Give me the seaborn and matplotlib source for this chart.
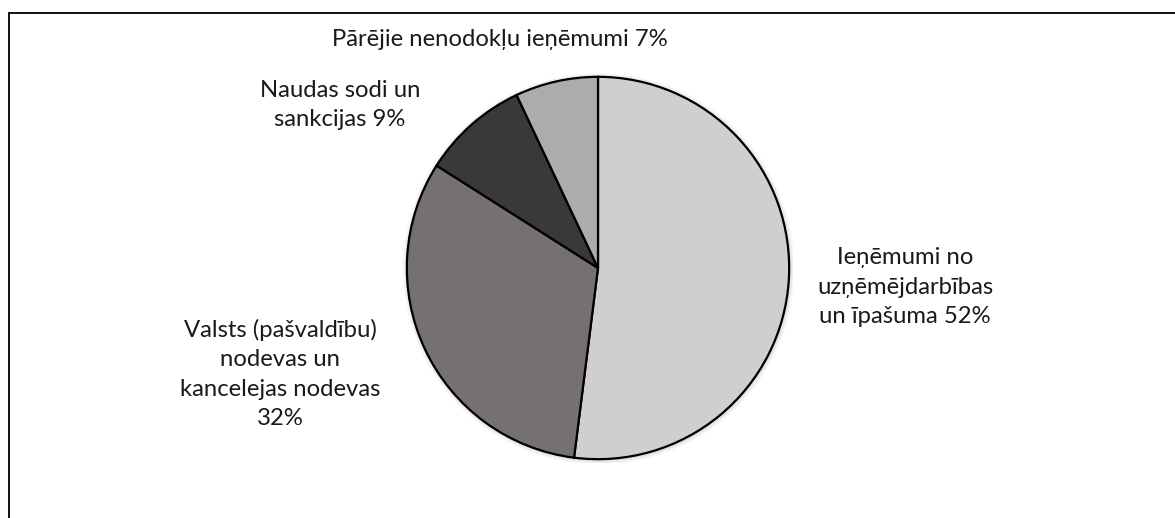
import matplotlib
matplotlib.use("Agg")
import matplotlib.pyplot as plt
import seaborn as sns
from matplotlib.patches import Circle

# data (clockwise from 12 o'clock)
categories = [
    "Ieņēmumi no\nuzņēmējdarbības\nun īpašuma",
    "Valsts (pašvaldību)\nnodevas un\nkancelejas nodevas\n",
    "Naudas sodi un\nsankcijas",
    "Pārējie nenodokļu ieņēmumi",
]
shares = [52, 32, 9, 7]
colors = ["#d0cece", "#767171", "#3b3838", "#aeabab"]

sns.set_theme(style="white")
plt.rcParams["font.family"] = ["Lato", "DejaVu Sans"]

W, H = 1175, 518
fig = plt.figure(figsize=(W / 100, H / 100), dpi=100)
fig.patch.set_facecolor("white")

# pie axes: centre (598, 268) px, radius 195 px
cx, cy, r = 598, 268, 195
ax = fig.add_axes([(cx - r) / W, (H - cy - r) / H, 2 * r / W, 2 * r / H])

# soft shadow
for i, a in enumerate([0.05, 0.04, 0.03]):
    ax.add_patch(Circle((0.004, -0.004), 1.0 + 0.008 * (i + 1), color="black",
                        alpha=a, lw=0, zorder=0))

ax.pie(shares, colors=colors, startangle=90, counterclock=False,
       wedgeprops=dict(edgecolor="black", linewidth=1.6),
       normalize=True)
ax.set_xlim(-1.02, 1.02)
ax.set_ylim(-1.02, 1.02)
ax.set_aspect("equal")
ax.axis("off")

# labels placed like the Excel chart
label_pos = [(905, 287), (280, 374), (340, 105), (500, 40)]
for cat, val, (lx, ly) in zip(categories, shares, label_pos):
    if cat.endswith("\n"):
        txt = f"{cat}{val}%"
    else:
        txt = f"{cat} {val}%"
    fig.text(lx / W, 1 - ly / H, txt, ha="center", va="center",
             fontsize=17.2, color="#1a1a1a", linespacing=1.5)

# chart frame (top and left visible)
fig.add_artist(plt.Line2D([9 / W, 1.0], [1 - 13 / H, 1 - 13 / H],
                          color="black", lw=1.3, transform=fig.transFigure))
fig.add_artist(plt.Line2D([9 / W, 9 / W], [0, 1 - 13 / H],
                          color="black", lw=1.3, transform=fig.transFigure))

fig.savefig("out.png", dpi=100)
